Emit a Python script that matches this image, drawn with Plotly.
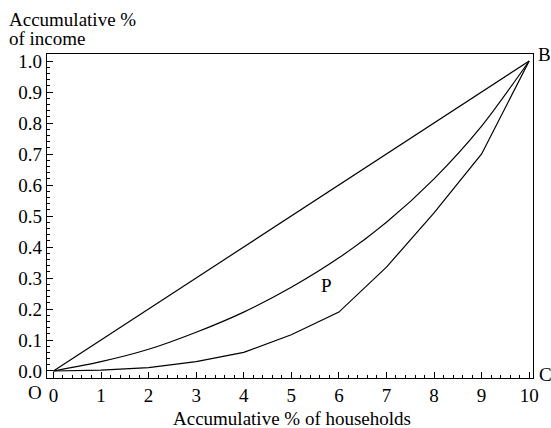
import plotly.graph_objects as go

# Lorenz curves: cumulative share of households (deciles) vs cumulative share of income
households = [0, 1, 2, 3, 4, 5, 6, 7, 8, 9, 10]
equality_line = [0.0, 0.1, 0.2, 0.3, 0.4, 0.5, 0.6, 0.7, 0.8, 0.9, 1.0]
curve_mid = [0.0, 0.030, 0.070, 0.125, 0.190, 0.270, 0.365, 0.480, 0.620, 0.790, 1.0]
curve_low = [0.0, 0.003, 0.011, 0.030, 0.060, 0.117, 0.190, 0.335, 0.510, 0.700, 1.0]

x_ticks = list(range(0, 11))
y_ticks = [round(0.1 * i, 1) for i in range(11)]

W, H = 551, 428
ML, MR, MT, MB = 47, 18, 54, 50
FONT = "Liberation Serif, Times New Roman, serif"
FS = 19


def px_x(p):
    return (p - ML) / (W - ML - MR)


def px_y(p):
    return 1 - (p - MT) / (H - MT - MB)


fig = go.Figure()
fig.add_trace(go.Scatter(x=households, y=equality_line, mode="lines",
                         line=dict(color="black", width=1.2)))
fig.add_trace(go.Scatter(x=households, y=curve_mid, mode="lines",
                         line=dict(color="black", width=1.2, shape="spline", smoothing=0.8)))
fig.add_trace(go.Scatter(x=households, y=curve_low, mode="lines",
                         line=dict(color="black", width=1.2)))

axis_common = dict(
    showline=True, linecolor="black", linewidth=1.4, mirror=True,
    showgrid=False, zeroline=False,
    ticks="inside", ticklen=6, tickwidth=1, tickcolor="black",
    tickfont=dict(family=FONT, size=FS, color="black"),
)

fig.update_xaxes(
    range=[-0.135, 10.08], tickvals=x_ticks, ticktext=[str(v) for v in x_ticks],
    minor=dict(dtick=0.2, tick0=0, ticks="inside", ticklen=3, tickcolor="black", tickwidth=1),
    **axis_common,
)
fig.update_yaxes(
    range=[-0.0226, 1.0226], tickvals=y_ticks, ticktext=[f"{v:.1f}" for v in y_ticks],
    minor=dict(dtick=0.02, tick0=0, ticks="inside", ticklen=3, tickcolor="black", tickwidth=1),
    **axis_common,
)

txt = dict(family=FONT, size=FS, color="black")
annotations = [
    dict(text="Accumulative %", xref="paper", yref="paper",
         x=px_x(7), y=px_y(20), xanchor="left", yanchor="middle",
         showarrow=False, font=txt),
    dict(text="of income", xref="paper", yref="paper",
         x=px_x(7), y=px_y(38), xanchor="left", yanchor="middle",
         showarrow=False, font=txt),
    dict(text="Accumulative % of households", xref="paper", yref="paper",
         x=px_x(292), y=px_y(419), xanchor="center", yanchor="middle",
         showarrow=False, font=txt),
    dict(text="O", xref="paper", yref="paper", x=px_x(35), y=px_y(392),
         xanchor="center", yanchor="middle", showarrow=False, font=txt),
    dict(text="B", xref="paper", yref="paper", x=px_x(544), y=px_y(54),
         xanchor="center", yanchor="middle", showarrow=False, font=txt),
    dict(text="C", xref="paper", yref="paper", x=px_x(545), y=px_y(374),
         xanchor="center", yanchor="middle", showarrow=False, font=txt),
    dict(text="P", x=5.73, y=0.277, xref="x", yref="y",
         xanchor="center", yanchor="middle", showarrow=False, font=txt),
]

fig.update_layout(
    width=W, height=H,
    margin=dict(l=ML, r=MR, t=MT, b=MB, pad=0),
    paper_bgcolor="white", plot_bgcolor="white",
    showlegend=False,
    annotations=annotations,
)

fig.write_html("out.html")
